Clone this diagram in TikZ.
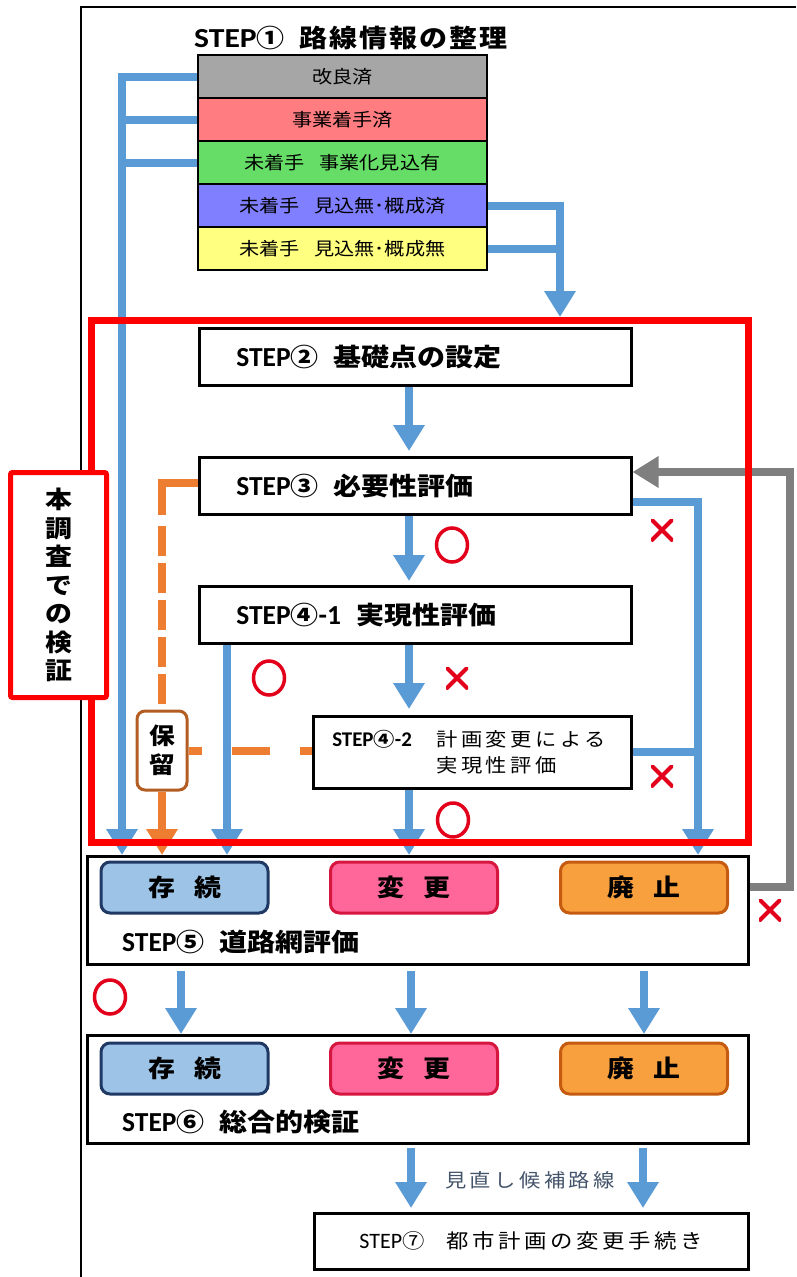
\documentclass[tikz,border=0pt]{standalone}
\usepackage{fontspec}
\setmainfont{Noto Sans CJK JP}[FakeStretch=1.12]
\newfontfamily\lat{Carlito}[Scale=1.1]
\newfontfamily\latw{Carlito}[Scale=1.1,FakeStretch=1.15]
\usetikzlibrary{arrows.meta,shapes.geometric}
\definecolor{cBlue}{HTML}{5B9BD5}
\definecolor{cOrange}{HTML}{ED7D31}
\definecolor{cGray}{HTML}{7F7F7F}
\definecolor{cRed}{HTML}{FF0000}
\definecolor{cMark}{HTML}{E3001B}
\definecolor{cRowA}{HTML}{A6A6A6}
\definecolor{cRowB}{HTML}{FF7C80}
\definecolor{cRowC}{HTML}{66DD66}
\definecolor{cRowD}{HTML}{7F7FFF}
\definecolor{cRowE}{HTML}{FFFF80}
\definecolor{cKeepF}{HTML}{9DC3E6}
\definecolor{cKeepD}{HTML}{1F3864}
\definecolor{cChgF}{HTML}{FF6699}
\definecolor{cChgD}{HTML}{D6163F}
\definecolor{cAbF}{HTML}{F8A03D}
\definecolor{cAbD}{HTML}{C55A11}
\definecolor{cHoldD}{HTML}{B35D22}
\definecolor{cNote}{HTML}{44546A}
\newcommand\jpls[1]{\addfontfeature{LetterSpace=#1}}
\newcommand\stp{{\lat STEP}}
\begin{document}
\begin{tikzpicture}[x=1pt,y=-1pt,
  blu/.style={draw=cBlue,line width=8pt},
  bluarr/.style={blu,-{Triangle[width=30pt,length=26pt]}},
  gryarr/.style={draw=cGray,line width=8pt,-{Triangle[width=30pt,length=26pt]}},
  org/.style={draw=cOrange,line width=8pt},
  orgarr/.style={org,-{Triangle[width=30pt,length=26pt]}},
  stepbox/.style={draw,line width=2.5pt,anchor=north west,align=left,inner ysep=0pt,
    text width=358pt,inner xsep=37pt,minimum height=57pt,
    font=\fontsize{25}{28}\selectfont\bfseries},
  bigbox/.style={draw,line width=3pt,anchor=north west,minimum width=661pt,minimum height=108pt,inner sep=0pt},
  rowbox/.style={draw,line width=2pt,anchor=north west,minimum width=289pt,minimum height=43pt,inner sep=0pt,
    font=\fontsize{18}{20}\selectfont},
  btn/.style={draw,rounded corners=9pt,line width=3pt,minimum width=167pt,minimum height=51pt,inner sep=0pt,
    font=\fontsize{24}{26}\selectfont\bfseries},
  steplabel/.style={anchor=west,inner sep=0pt,font=\fontsize{25}{28}\selectfont\bfseries},
  okmark/.style={ellipse,draw=cMark,line width=3.5pt,minimum width=31pt,minimum height=34pt,inner sep=0pt},
  ngmark/.style={minimum size=22pt,inner sep=0pt,path picture={\draw[cMark,line width=4pt]
    (path picture bounding box.north west)--(path picture bounding box.south east)
    (path picture bounding box.south west)--(path picture bounding box.north east);}},
]
\useasboundingbox (0,0) rectangle (796,1277);
% outer frame
\draw[line width=2pt] (81,1277) -- (81,7) -- (796,7);

% STEP 1
\node[font=\fontsize{25}{28}\selectfont\bfseries] (t1) at (351,38) {{\latw STEP}①\hspace{0.6em}{\jpls{8}路線情報の整理}};
\node[rowbox,fill=cRowA] (r1) at (197,54) {改良済};
\node[rowbox,fill=cRowB] (r2) at (197,97) {事業着手済};
\node[rowbox,fill=cRowC] (r3) at (197,140) {未着手\hspace{0.8em}事業化見込有};
\node[rowbox,fill=cRowD] (r4) at (197,183) {未着手\hspace{0.8em}見込無･概成済};
\node[rowbox,fill=cRowE] (r5) at (197,226) {未着手\hspace{0.8em}見込無･概成無};

% steps 2-4
\node[stepbox] (s2) at (198,327) {\stp②\hspace{0.6em}基礎点の設定};
\node[stepbox] (s3) at (198,456) {\stp③\hspace{0.6em}必要性評価};
\node[stepbox] (s4a) at (198,585) {\stp④{\lat -1}\hspace{0.6em}実現性評価};
\node[draw,line width=2.5pt,anchor=north west,align=left,inner ysep=0pt,inner xsep=19pt,
  text width=280pt,minimum height=72pt,font=\fontsize{19}{26}\selectfont] (s4b) at (312,715)
  {\textbf{\stp④{\lat -2}}\hspace{1.3em}{\jpls{18}計画変更による}\\
   \phantom{\textbf{\stp④{\lat -2}}\hspace{1.3em}}{\jpls{18}実現性評価}};

% steps 5-7
\node[bigbox] (s5) at (86,855) {};
\node[btn,fill=cKeepF,draw=cKeepD] (k5) at (184.5,887.5) {存\hspace{0.8em}続};
\node[btn,fill=cChgF,draw=cChgD] (c5) at (414,887.5) {変\hspace{0.8em}更};
\node[btn,fill=cAbF,draw=cAbD] (a5) at (644,887.5) {廃\hspace{0.8em}止};
\node[steplabel] (l5) at (122,942) {\stp⑤\hspace{0.6em}道路網評価};

\node[bigbox] (s6) at (86,1034) {};
\node[btn,fill=cKeepF,draw=cKeepD] (k6) at (184.5,1068.5) {存\hspace{0.8em}続};
\node[btn,fill=cChgF,draw=cChgD] (c6) at (414,1068.5) {変\hspace{0.8em}更};
\node[btn,fill=cAbF,draw=cAbD] (a6) at (644,1068.5) {廃\hspace{0.8em}止};
\node[steplabel] (l6) at (122,1122) {\stp⑥\hspace{0.6em}総合的検証};

\node[draw,line width=2.5pt,anchor=north west,minimum width=434pt,minimum height=56pt,inner sep=0pt,
  font=\fontsize{20}{24}\selectfont] (s7) at (313,1212) {\stp⑦\hspace{1.1em}{\jpls{18}都市計画の変更手続き}};

% hold box
\node[draw=cHoldD,fill=white,line width=3pt,rounded corners=8pt,minimum width=50pt,minimum height=79pt,
  inner sep=0pt,align=center,font=\fontsize{23}{29}\selectfont\bfseries] (hold) at (162,750.5) {保\\留};

% coordinates
\coordinate (lb) at (122,0);
\coordinate (rb) at (560,0);
\coordinate (mx) at (409,0);
\coordinate (kx) at (227,0);
\coordinate (nb) at (698,502);
\coordinate (g1) at (790,887);
\coordinate (g2) at (790,472);
\coordinate (oc) at (162,483);
\coordinate (od) at (162,515);
\coordinate (oe) at (162,526);
\coordinate (ca) at (181,0);
\coordinate (cb) at (411,0);
\coordinate (cc) at (644,0);
\coordinate (da) at (411,0);
\coordinate (db) at (643,0);

% orange (hold) lines
\draw[org] (s3.west |- oc) -- (oc) -- (od);
\draw[org,dash pattern=on 30pt off 7pt] (oe) -- (hold.north);
\draw[org,dash pattern=on 38pt off 30pt,dash phase=25pt] (hold.east) -- (hold.east -| s4b.west);
\draw[orgarr] (hold.south) -- (hold.south |- s5.north);

% blue connectors
\draw[bluarr] (r1.west) -| (lb |- s5.north);
\draw[blu] (r2.west) -- (r2.west -| lb);
\draw[blu] (r3.west) -- (r3.west -| lb);
\draw[bluarr,shorten >=10pt] (r4.east) -| (rb |- s2.north);
\draw[blu] (r5.east) -- (r5.east -| rb);

\draw[bluarr,shorten >=5pt] (s2.south -| mx) -- (s3.north -| mx);
\draw[bluarr,shorten >=4pt] (s3.south -| mx) -- (s4a.north -| mx);
\draw[bluarr,shorten >=6pt] (s4a.south -| mx) -- (s4b.north -| mx);
\draw[bluarr] (s4b.south -| mx) -- (s5.north -| mx);
\draw[bluarr] (s4a.south -| kx) -- (s5.north -| kx);
\draw[bluarr] (s3.east |- nb) -- (nb) -- (nb |- s5.north);
\draw[blu] (s4b.east) -- (s4b.east -| nb);

% gray feedback
\draw[gryarr] (s5.east |- g1) -- (g1) -- (g2) -- (s3.east |- g2);

% step 5 -> 6 -> 7
\draw[bluarr,shorten <=5pt] (s5.south -| ca) -- (s6.north -| ca);
\draw[bluarr,shorten <=5pt] (s5.south -| cb) -- (s6.north -| cb);
\draw[bluarr,shorten <=5pt] (s5.south -| cc) -- (s6.north -| cc);
\draw[bluarr,shorten <=3pt,shorten >=4pt] (s6.south -| da) -- (s7.north -| da);
\draw[bluarr,shorten <=3pt,shorten >=4pt] (s6.south -| db) -- (s7.north -| db);
\node[font=\fontsize{19}{22}\selectfont,text=cNote] (note) at (530,1180) {{\jpls{18}見直し候補路線}};

% red zone
\node[draw=cRed,line width=7pt,anchor=north west,minimum width=657pt,minimum height=522pt,inner sep=0pt] (zone) at (87.5,316.5) {};
\node[draw=cRed,line width=5pt,fill=white,rounded corners=2pt,minimum width=96pt,minimum height=225pt,
  inner sep=0pt,align=center,font=\fontsize{24}{28.5}\selectfont\bfseries] (lab) at (58.5,585) {本\\調\\査\\で\\の\\検\\証};

% marks
\node[okmark] (ok1) at (452,545) {};
\node[okmark] (ok2) at (269,678) {};
\node[okmark] (ok3) at (453,820) {};
\node[okmark] (ok4) at (110,997) {};
\node[ngmark] (ng1) at (662,530) {};
\node[ngmark] (ng2) at (457,678) {};
\node[ngmark] (ng3) at (662,776) {};
\node[ngmark] (ng4) at (770,910) {};
\end{tikzpicture}
\end{document}
